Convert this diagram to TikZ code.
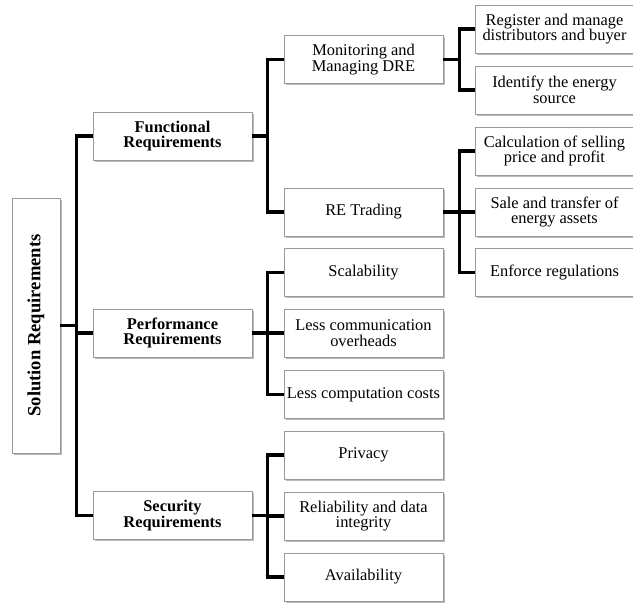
\documentclass[tikz,border=0pt]{standalone}
\usepackage{fontspec}
\setmainfont{Liberation Serif}
\usetikzlibrary{shadows}
\begin{document}
\begin{tikzpicture}[x=1pt,y=-1pt,
  box/.style={draw=black!40, line width=0.8pt, fill=white, align=center, inner sep=1pt,
    minimum width=159pt, minimum height=48pt,
    font=\fontsize{16.4}{15.8}\selectfont,
    drop shadow={shadow xshift=1.6pt, shadow yshift=-1.8pt, fill=black!45, opacity=0.6}},
  bbox/.style={box, font=\fontsize{16.4}{15.8}\selectfont\bfseries},
  conn/.style={line width=3.5pt, line join=miter}]
\useasboundingbox (0,0) rectangle (633,604);
% root
\node[box, minimum width=255pt, minimum height=48pt, rotate=90, font=\fontsize{18.6}{18}\selectfont\bfseries] (root) at (36,325.5) {Solution Requirements};
% level 1
\node[bbox] (func) at (172.5,136) {Functional\\Requirements};
\node[bbox] (perf) at (172.5,333) {Performance\\Requirements};
\node[bbox] (sec) at (172.5,515.5) {Security\\Requirements};
% level 2
\node[box] (mon) at (363.5,59.5) {Monitoring and\\Managing DRE};
\node[box] (re) at (363.5,212) {RE Trading};
\node[box] (scal) at (363.5,272.5) {Scalability};
\node[box] (lcomm) at (363.5,333) {Less communication\\overheads};
\node[box] (lcomp) at (363.5,394.5) {Less computation costs};
\node[box] (priv) at (363.5,455) {Privacy};
\node[box] (rel) at (363.5,516) {Reliability and data\\integrity};
\node[box] (avail) at (363.5,577) {Availability};
% level 3
\node[box] (reg) at (554.5,29) {Register and manage\\distributors and buyer};
\node[box] (ident) at (554.5,90) {Identify the energy\\source};
\node[box] (calc) at (554.5,151) {Calculation of selling\\price and profit};
\node[box] (sale) at (554.5,212) {Sale and transfer of\\energy assets};
\node[box] (enf) at (554.5,272.5) {Enforce regulations};
% connectors root
\draw[conn] (root.south) -- ++(17,0);
\draw[conn] (func.west) -- ++(-16,0) |- (sec.west);
\draw[conn] (perf.west) -- ++(-16,0);
% functional
\draw[conn] (func.east) -- ++(16,0);
\draw[conn] (mon.west) -- ++(-16,0) |- (re.west);
% performance
\draw[conn] (perf.east) -- ++(16,0);
\draw[conn] (scal.west) -- ++(-16,0) |- (lcomp.west);
\draw[conn] (lcomm.west) -- ++(-16,0);
% security
\draw[conn] (sec.east) -- ++(16,0);
\draw[conn] (priv.west) -- ++(-16,0) |- (avail.west);
\draw[conn] (rel.west) -- ++(-16,0);
% monitoring
\draw[conn] (mon.east) -- ++(17,0);
\draw[conn] (reg.west) -- ++(-15,0) |- (ident.west);
% trading
\draw[conn] (re.east) -- ++(17,0);
\draw[conn] (calc.west) -- ++(-15,0) |- (enf.west);
\draw[conn] (sale.west) -- ++(-15,0);
\end{tikzpicture}
\end{document}
